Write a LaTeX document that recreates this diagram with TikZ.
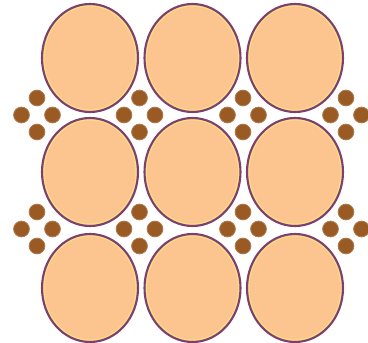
\documentclass[tikz,border=0pt]{standalone}
\definecolor{peach}{HTML}{FCC590}
\definecolor{rim}{HTML}{7E3F70}
\definecolor{rimin}{HTML}{F4E27E}
\definecolor{dot}{HTML}{9A5A24}
\tikzset{
  grain/.style={fill=peach},
  rimout/.style={draw=rim,line width=2.1pt},
  riminner/.style={draw=rimin,line width=1.1pt},
  dotstyle/.style={fill=dot,draw=dot!80!white,line width=0.8pt}
}
\begin{document}
\begin{tikzpicture}[x=1pt,y=-1pt]
\useasboundingbox[fill=white] (0,0) rectangle (368,343);
\foreach \cx in {90,192.5,295}{
  \foreach \cy in {58,172,288}{
    \fill[grain] (\cx,\cy) ellipse [x radius=48,y radius=54];
    \draw[riminner] (\cx,\cy) ellipse [x radius=46.1,y radius=52.1];
    \draw[rimout] (\cx,\cy) ellipse [x radius=48,y radius=54];
  }
}
\foreach \px in {37,139.5,243,346}{
  \foreach \py in {115,229}{
    \foreach \dx/\dy in {-15.5/0,15.5/0,0/-17,0/17}{
      \filldraw[dotstyle] (\px+\dx,\py+\dy) circle [radius=7.9];
    }
  }
}
\end{tikzpicture}
\end{document}
